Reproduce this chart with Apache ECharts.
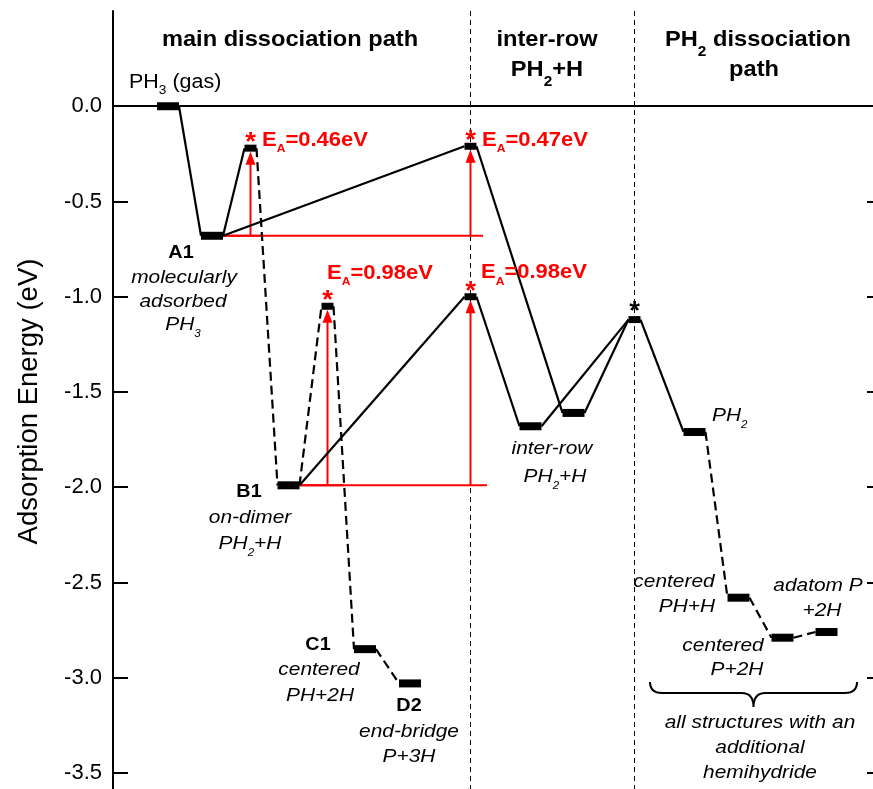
<!DOCTYPE html>
<html><head><meta charset="utf-8">
<script src="https://cdn.jsdelivr.net/npm/echarts@6/dist/echarts.min.js"></script>
<style>html,body{margin:0;padding:0;background:#fff}#c{width:873px;height:789px}</style>
</head><body><div id="c"></div>
<script>
// ---------------- data ----------------
const stateNames = ['PH3 gas','A1','TS A1-B1','TS A1-IR','B1','TS B1-C1','TS B1-IR','C1','D2','IR1','IR2','TS IR-PH2','PH2','PH+H','P+2H centered','P+2H adatom'];
const stateX  = [55, 99, 137.5, 357.5, 175.5, 214.5, 357.5, 252, 297, 417.5, 460.5, 521.5, 581.5, 625.5, 669.5, 713.5];
const stateE  = [0.00, -0.68, -0.22, -0.21, -1.99, -1.05, -1.00, -2.85, -3.03, -1.68, -1.61, -1.12, -1.71, -2.58, -2.79, -2.76];
const stateIsTS = [0,0,1,1,0,1,1,0,0,0,0,1,0,0,0,0];
const pathFrom   = [0,1,1,2,4,5,7,4,6,3,9,10,11,12,13,14];
const pathTo     = [1,2,3,4,5,7,8,6,9,10,11,11,12,13,14,15];
const pathDashed = [0,0,0,1,1,1,1,0,0,0,0,0,0,1,1,1];
const barrierStart = [1,1,4,4];
const barrierTS    = [2,3,5,6];
const barrierEA    = [0.46,0.47,0.98,0.98];
const plainStarTS  = [11];
const separatorStates = [6,11];
const yTicks = [0,-0.5,-1.0,-1.5,-2.0,-2.5,-3.0,-3.5];
const Y_MIN = -3.6, Y_MAX = 0.5, X_MIN = 0, X_MAX = 769;

// ---------------- layout / style ----------------
const FONT = '"Liberation Sans", Arial, Helvetica, sans-serif';
const LVL_W = 22, LVL_H = 8, TS_W = 12, TS_H = 7;
const RED = '#ff0000';
const refLineExt = [12.5, 12.5, 16.5, 16.5];
const eaOffset = [[11.5,-8],[11.5,-6],[-0.5,-33],[10.5,-24]];
const STAR_DY = -5;
const STYLES = {
  head: {size:21.5, weight:'bold', style:'normal', subSize:14, subDy:11.6, color:'#000'},
  gas:  {size:19.5, weight:'normal', style:'normal', subSize:12.5, subDy:7.1, color:'#000'},
  name: {size:18, weight:'bold', style:'normal', subSize:12, subDy:7, color:'#000'},
  it:   {size:19, weight:'normal', style:'italic', subSize:10.5, subDy:9.3, color:'#000'},
  ea:   {size:20, weight:'bold', style:'normal', subSize:11, subDy:8.8, color:RED},
  star: {size:25, weight:'bold', style:'normal', subSize:12, subDy:0, color:RED},
  starK:{size:25, weight:'bold', style:'normal', subSize:12, subDy:0, color:'#000'}
};
const annotations = [
  {x:177, y:0.3475, t:'main dissociation path', k:'head'},
  {x:434, y:0.3475, t:'inter-row', k:'head'},
  {x:434, y:0.19, t:'PH_2+H', k:'head'},
  {x:645, y:0.3475, t:'PH_2 dissociation', k:'head'},
  {x:641, y:0.19, t:'path', k:'head'},
  {x:16, y:0.122, t:'PH_3 (gas)', k:'gas', a:'left'},
  {x:68, y:-0.771, t:'A1', k:'name'},
  {x:71, y:-0.902, t:'molecularly', k:'it'},
  {x:70, y:-1.028, t:'adsorbed', k:'it'},
  {x:70, y:-1.149, t:'PH_3', k:'it'},
  {x:136, y:-2.025, t:'B1', k:'name'},
  {x:137, y:-2.162, t:'on-dimer', k:'it'},
  {x:137, y:-2.298, t:'PH_2+H', k:'it'},
  {x:205, y:-2.828, t:'C1', k:'name'},
  {x:206, y:-2.959, t:'centered', k:'it'},
  {x:207, y:-3.096, t:'PH+2H', k:'it'},
  {x:296, y:-3.149, t:'D2', k:'name'},
  {x:296, y:-3.285, t:'end-bridge', k:'it'},
  {x:296, y:-3.417, t:'P+3H', k:'it'},
  {x:439, y:-1.799, t:'inter-row', k:'it'},
  {x:442, y:-1.946, t:'PH_2+H', k:'it'},
  {x:599, y:-1.626, t:'PH_2', k:'it', a:'left'},
  {x:561, y:-2.498, t:'centered', k:'it'},
  {x:574, y:-2.629, t:'PH+H', k:'it'},
  {x:610, y:-2.834, t:'centered', k:'it'},
  {x:624, y:-2.959, t:'P+2H', k:'it'},
  {x:705, y:-2.519, t:'adatom P', k:'it'},
  {x:709, y:-2.650, t:'+2H', k:'it'},
  {x:647, y:-3.238, t:'all structures with an', k:'it'},
  {x:647, y:-3.369, t:'additional', k:'it'},
  {x:647, y:-3.500, t:'hemihydride', k:'it'}
];
const brace = {x0:537, x1:744, top:-3.022, mid:11, tip:25, r:12};

// ---------------- helpers ----------------
const mctx = document.createElement('canvas').getContext('2d');
function fontStr(s, o){ return `${o.style} ${o.weight} ${s}px ${FONT}`; }
function measure(t, f){ mctx.font = f; return mctx.measureText(t).width; }
function richText(x, y, str, o, align){
  const parts = []; let buf = '';
  for (let i = 0; i < str.length; i++) {
    if (str[i] === '_') { if (buf) parts.push({t:buf}); buf=''; parts.push({t:str[i+1], sub:true}); i++; }
    else buf += str[i];
  }
  if (buf) parts.push({t:buf});
  let w = 0;
  parts.forEach(p => { p.s = p.sub ? o.subSize : o.size; p.w = measure(p.t, fontStr(p.s, o)); w += p.w; });
  let cx = align === 'left' ? 0 : (align === 'right' ? -w : -w/2);
  const children = parts.map(p => {
    const el = {type:'text', x:cx, y:p.sub ? o.subDy : 0,
      style:{text:p.t, fontSize:p.s, fontFamily:FONT, fontWeight:o.weight, fontStyle:o.style,
             fill:o.color, align:'left', verticalAlign:'middle'}};
    cx += p.w; return el;
  });
  return {type:'group', x:x, y:y, scaleX:1.1, children:children};
}

// ---------------- chart ----------------
const chart = echarts.init(document.getElementById('c'), null, {renderer:'canvas'});
const option = {
  animation:false,
  backgroundColor:'#fff',
  grid:{left:113, top:11, width:769, height:781, containLabel:false, outerBoundsMode:'none'},
  xAxis:{type:'value', min:X_MIN, max:X_MAX, position:'top',
    axisLine:{show:true, lineStyle:{color:'#000', width:2}},
    axisTick:{show:false}, axisLabel:{show:false}, splitLine:{show:false}},
  yAxis:[
    {type:'value', min:Y_MIN, max:Y_MAX, position:'left',
     name:'Adsorption Energy (eV)', nameLocation:'middle', nameGap:70, nameRotate:90,
     nameTextStyle:{fontSize:27.5, fontFamily:FONT, color:'#000'},
     axisLine:{show:true, onZero:false, lineStyle:{color:'#000', width:2}},
     axisTick:{show:true, inside:true, length:15, customValues:yTicks, lineStyle:{color:'#000', width:2}},
     axisLabel:{show:true, customValues:yTicks, margin:11, fontSize:22, fontFamily:FONT, color:'#000',
       formatter: v => Number(v).toFixed(1)},
     splitLine:{show:false}},
    {type:'value', min:Y_MIN, max:Y_MAX, position:'right',
     axisLine:{show:true, onZero:false, lineStyle:{color:'#000', width:2}},
     axisTick:{show:true, inside:true, length:15, customValues:yTicks, lineStyle:{color:'#000', width:2}},
     axisLabel:{show:false}, splitLine:{show:false}}
  ],
  series:[
    { // zero reference line
      type:'custom', z:1, data:[[X_MIN, 0, X_MAX]],
      renderItem(params, api){
        const a = api.coord([api.value(0), api.value(1)]), b = api.coord([api.value(2), api.value(1)]);
        return {type:'line', shape:{x1:a[0], y1:a[1], x2:b[0], y2:b[1]}, style:{stroke:'#000', lineWidth:1.3}};
      }
    },
    { // separators
      type:'custom', z:1, data: separatorStates.map(s => [stateX[s]]),
      renderItem(params, api){
        const a = api.coord([api.value(0), Y_MAX]), b = api.coord([api.value(0), Y_MIN]);
        return {type:'line', shape:{x1:a[0], y1:a[1], x2:b[0], y2:b[1]}, style:{stroke:'#000', lineWidth:1, lineDash:[5,4]}};
      }
    },
    { // barrier reference lines & arrows
      type:'custom', z:2,
      data: barrierTS.map((ts, i) => [stateX[ts], stateE[barrierStart[i]], stateE[ts], stateX[barrierStart[i]], stateIsTS[barrierStart[i]]]),
      renderItem(params, api){
        const i = params.dataIndex;
        const xa = api.value(0), e0 = api.value(1), e1 = api.value(2), xs = api.value(3);
        const sw = api.value(4) ? TS_W : LVL_W;
        const p0 = api.coord([xa, e0]), p1 = api.coord([xa, e1]);
        const ls = api.coord([xs, e0]);
        const tipY = p1[1] + TS_H/2, headL = 13, headW = 5;
        return {type:'group', children:[
          {type:'line', shape:{x1:ls[0]+sw/2, y1:ls[1], x2:p0[0]+refLineExt[i], y2:p0[1]}, style:{stroke:RED, lineWidth:2}},
          {type:'line', shape:{x1:p0[0], y1:p0[1], x2:p0[0], y2:tipY+headL-1}, style:{stroke:RED, lineWidth:2}},
          {type:'polygon', shape:{points:[[p0[0], tipY],[p0[0]-headW, tipY+headL],[p0[0]+headW, tipY+headL]]}, style:{fill:RED}}
        ]};
      }
    },
    { // connectors
      type:'custom', z:3,
      data: pathFrom.map((f, i) => [stateX[f], stateE[f], stateX[pathTo[i]], stateE[pathTo[i]], stateIsTS[f], stateIsTS[pathTo[i]], pathDashed[i]]),
      renderItem(params, api){
        const a = api.coord([api.value(0), api.value(1)]), b = api.coord([api.value(2), api.value(3)]);
        const wa = api.value(4) ? TS_W : LVL_W, wb = api.value(5) ? TS_W : LVL_W;
        return {type:'line', shape:{x1:a[0]+wa/2, y1:a[1], x2:b[0]-wb/2, y2:b[1]},
          style:{stroke:'#000', lineWidth:2.2, lineDash: api.value(6) ? [9,5] : null}};
      }
    },
    { // energy levels
      type:'custom', z:4,
      data: stateX.map((x, i) => [x, stateE[i], stateIsTS[i]]),
      renderItem(params, api){
        const p = api.coord([api.value(0), api.value(1)]);
        const ts = api.value(2); const w = ts ? TS_W : LVL_W, h = ts ? TS_H : LVL_H;
        return {type:'rect', shape:{x:p[0]-w/2, y:p[1]-h/2, width:w, height:h}, style:{fill:'#000'}};
      }
    },
    { // barrier labels and stars
      type:'custom', z:5,
      data: barrierTS.map((ts, i) => [stateX[ts], stateE[ts], barrierEA[i]]),
      renderItem(params, api){
        const i = params.dataIndex;
        const p = api.coord([api.value(0), api.value(1)]);
        return {type:'group', children:[
          richText(p[0], p[1] + STAR_DY, '*', STYLES.star, 'center'),
          richText(p[0] + eaOffset[i][0], p[1] + eaOffset[i][1], 'E_A=' + api.value(2).toFixed(2) + 'eV', STYLES.ea, 'left')
        ]};
      }
    },
    { // black star
      type:'custom', z:5,
      data: plainStarTS.map(s => [stateX[s], stateE[s]]),
      renderItem(params, api){
        const p = api.coord([api.value(0), api.value(1)]);
        return richText(p[0], p[1] + STAR_DY - 2, '*', STYLES.starK, 'center');
      }
    },
    { // text annotations
      type:'custom', z:6,
      data: annotations.map(a => [a.x, a.y]),
      renderItem(params, api){
        const a = annotations[params.dataIndex];
        const p = api.coord([api.value(0), api.value(1)]);
        return richText(p[0], p[1], a.t, STYLES[a.k], a.a || 'center');
      }
    },
    { // brace
      type:'custom', z:6,
      data: [[brace.x0, brace.x1, brace.top]],
      renderItem(params, api){
        const a = api.coord([api.value(0), api.value(2)]), b = api.coord([api.value(1), api.value(2)]);
        const x0 = a[0], x1 = b[0], yT = a[1], yM = yT + brace.mid, yP = yT + brace.tip, xc = (x0 + x1)/2, r = brace.r;
        const d = `M${x0},${yT} Q${x0},${yM} ${x0+r},${yM} L${xc-r},${yM} Q${xc},${yM} ${xc},${yP} Q${xc},${yM} ${xc+r},${yM} L${x1-r},${yM} Q${x1},${yM} ${x1},${yT}`;
        return {type:'path', shape:{pathData:d}, style:{stroke:'#000', fill:null, lineWidth:2}};
      }
    }
  ]
};
chart.setOption(option);
</script></body></html>
